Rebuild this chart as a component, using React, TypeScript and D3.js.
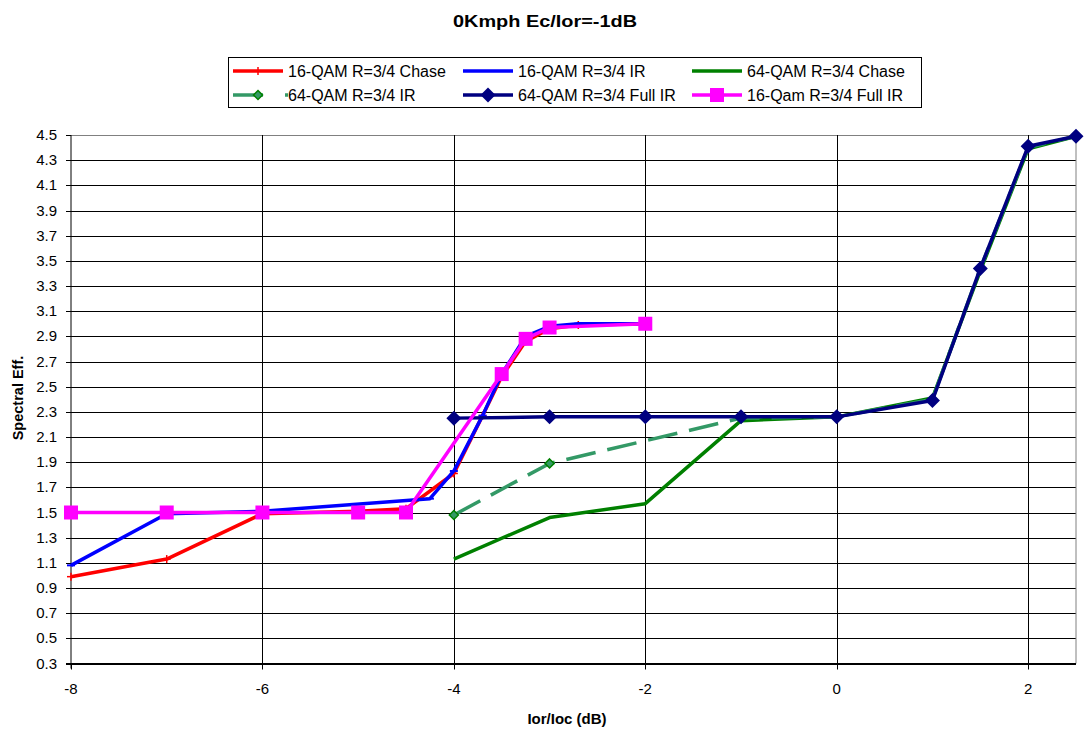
import React from "react";
import * as d3 from "d3";

const W = 1084;
const H = 731;

const chaseX16 = [-8, -7, -6, -5, -4.5, -4, -3.7, -3.5, -3.25, -3, -2.7, -2];
const chaseY16 = [0.99, 1.13, 1.49, 1.51, 1.53, 1.81, 2.27, 2.58, 2.86, 2.96, 2.99, 3.0];

const irX16 = [-8, -7, -6, -4.25, -4, -3.7, -3.5, -3.25, -3, -2.7, -2];
const irY16 = [1.08, 1.49, 1.51, 1.61, 1.83, 2.27, 2.6, 2.9, 2.98, 3.0, 3.0];

const chaseX64 = [-4, -3, -2, -1, 0, 1, 1.5, 2, 2.5];
const chaseY64 = [1.13, 1.46, 1.57, 2.23, 2.26, 2.41, 3.42, 4.39, 4.49];

const irX64 = [-4, -3, -1, 0, 1, 1.5, 2, 2.5];
const irY64 = [1.48, 1.89, 2.25, 2.26, 2.4, 3.44, 4.4, 4.49];

const fullX64 = [-4, -3, -2, -1, 0, 1, 1.5, 2, 2.5];
const fullY64 = [2.25, 2.26, 2.26, 2.26, 2.26, 2.39, 3.44, 4.41, 4.49];

const fullX16 = [-8, -7, -6, -5, -4.5, -3.5, -3.25, -3, -2];
const fullY16 = [1.5, 1.5, 1.5, 1.5, 1.5, 2.6, 2.88, 2.97, 3.0];

const xTicks = [-8, -6, -4, -2, 0, 2];
const yTicks = [0.3, 0.5, 0.7, 0.9, 1.1, 1.3, 1.5, 1.7, 1.9, 2.1, 2.3, 2.5, 2.7, 2.9, 3.1, 3.3, 3.5, 3.7, 3.9, 4.1, 4.3, 4.5];

const seriesNames = [
  "16-QAM R=3/4 Chase",
  "16-QAM R=3/4 IR",
  "64-QAM R=3/4 Chase",
  "64-QAM R=3/4 IR",
  "64-QAM R=3/4 Full IR",
  "16-Qam R=3/4 Full IR",
];

type Marker = "plus" | "dash" | "none" | "smallDiamond" | "diamond" | "square";
const seriesStyle: { color: string; marker: Marker; dash?: string }[] = [
  { color: "#FF0000", marker: "plus" },
  { color: "#0000FF", marker: "dash" },
  { color: "#008000", marker: "none" },
  { color: "#339966", marker: "smallDiamond", dash: "30,12" },
  { color: "#000080", marker: "diamond" },
  { color: "#FF00FF", marker: "square" },
];

const seriesData = [
  [chaseX16, chaseY16],
  [irX16, irY16],
  [chaseX64, chaseY64],
  [irX64, irY64],
  [fullX64, fullY64],
  [fullX16, fullY16],
];

const L = 71, R = 1076, T = 135, B = 663.5;
const font = "Arial, 'Liberation Sans', sans-serif";

function MarkerShape({ type, color, x, y }: { type: Marker; color: string; x: number; y: number }) {
  switch (type) {
    case "plus":
      return (
        <g stroke={color} strokeWidth={1.5}>
          <line x1={x - 4} x2={x + 4} y1={y} y2={y} />
          <line x1={x} x2={x} y1={y - 4} y2={y + 4} />
        </g>
      );
    case "dash":
      return <line x1={x - 4} x2={x + 4} y1={y} y2={y} stroke={color} strokeWidth={2} />;
    case "smallDiamond":
      return (
        <path
          d={`M${x},${y - 4.5}L${x + 4.5},${y}L${x},${y + 4.5}L${x - 4.5},${y}Z`}
          fill="#339966"
          stroke="#008000"
          strokeWidth={1.5}
        />
      );
    case "diamond":
      return <path d={`M${x},${y - 7.5}L${x + 7.5},${y}L${x},${y + 7.5}L${x - 7.5},${y}Z`} fill={color} />;
    case "square":
      return <rect x={x - 7} y={y - 7} width={14} height={14} fill={color} />;
    default:
      return null;
  }
}

export default function App() {
  const x = d3.scaleLinear().domain([-8, 2.5]).range([L, R]);
  const y = d3.scaleLinear().domain([0.3, 4.5]).range([B, T]);
  const line = d3
    .line<[number, number]>()
    .x((d) => x(d[0]))
    .y((d) => y(d[1]));

  const legendCols = [233, 463, 692];
  const legendRows = [71, 95];

  return (
    <svg width={W} height={H} style={{ position: "absolute", left: 0, top: 0, background: "#fff" }} fontFamily={font}>
      <rect x={0} y={0} width={W} height={H} fill="#fff" />
      <text transform="translate(545,27) scale(1.17,1)" textAnchor="middle" fontSize={17} fontWeight="bold">
        0Kmph Ec/Ior=-1dB
      </text>

      {/* grid */}
      {yTicks.map((t) => (
        <line key={"gy" + t} x1={L} x2={R} y1={Math.round(y(t)) + 0.5} y2={Math.round(y(t)) + 0.5} stroke={t === 4.5 ? "#808080" : "#000"} strokeWidth={1} />
      ))}
      {xTicks.slice(1).map((t) => (
        <line key={"gx" + t} x1={Math.round(x(t)) + 0.5} x2={Math.round(x(t)) + 0.5} y1={T} y2={B} stroke="#000" strokeWidth={1} />
      ))}
      <line x1={R} x2={R} y1={T} y2={B} stroke="#808080" />

      {/* axes */}
      <line x1={L} x2={L} y1={T} y2={B + 5} stroke="#000" strokeWidth={1} />
      <line x1={L - 5} x2={R} y1={B} y2={B} stroke="#000" strokeWidth={1.2} />
      {yTicks.map((t) => (
        <g key={"ty" + t}>
          <line x1={L - 5} x2={L} y1={Math.round(y(t)) + 0.5} y2={Math.round(y(t)) + 0.5} stroke="#000" />
          <text x={L - 14} y={y(t) + 5} textAnchor="end" fontSize={15}>
            {t.toFixed(1)}
          </text>
        </g>
      ))}
      {xTicks.map((t) => (
        <g key={"tx" + t}>
          <line x1={Math.round(x(t)) + 0.5} x2={Math.round(x(t)) + 0.5} y1={B} y2={B + 6} stroke="#000" />
          <text x={x(t)} y={B + 30} textAnchor="middle" fontSize={15}>
            {t}
          </text>
        </g>
      ))}

      <text x={567} y={724} textAnchor="middle" fontSize={15} fontWeight="bold">
        Ior/Ioc (dB)
      </text>
      <text transform={`translate(23,398) rotate(-90)`} textAnchor="middle" fontSize={14.5} fontWeight="bold">
        Spectral Eff.
      </text>

      {/* series */}
      {seriesData.map(([xs, ys], i) => {
        const pts = xs.map((v, k) => [v, ys[k]] as [number, number]);
        const st = seriesStyle[i];
        return (
          <g key={"s" + i}>
            <path d={line(pts) || ""} fill="none" stroke={st.color} strokeWidth={3.5} strokeDasharray={st.dash} strokeLinejoin="round" />
            {pts.map((p, k) => (
              <MarkerShape key={k} type={st.marker} color={st.color} x={x(p[0])} y={y(p[1])} />
            ))}
          </g>
        );
      })}

      {/* legend */}
      <rect x={228.5} y={57.5} width={693} height={50} fill="#fff" stroke="#000" strokeWidth={1} />
      {seriesNames.map((name, i) => {
        const cx = legendCols[i % 3];
        const cy = legendRows[Math.floor(i / 3)];
        const st = seriesStyle[i];
        return (
          <g key={"lg" + i}>
            {st.dash ? (
              <>
                <line x1={cx} x2={cx + 30} y1={cy} y2={cy} stroke={st.color} strokeWidth={3.5} />
                <line x1={cx + 52} x2={cx + 55} y1={cy} y2={cy} stroke={st.color} strokeWidth={3.5} />
              </>
            ) : (
              <line x1={cx} x2={cx + 50} y1={cy} y2={cy} stroke={st.color} strokeWidth={3.5} />
            )}
            <MarkerShape type={st.marker === "dash" ? "none" : st.marker} color={st.color} x={cx + 25} y={cy} />
            <text x={cx + 55} y={cy + 6} fontSize={16}>
              {name}
            </text>
          </g>
        );
      })}
    </svg>
  );
}
